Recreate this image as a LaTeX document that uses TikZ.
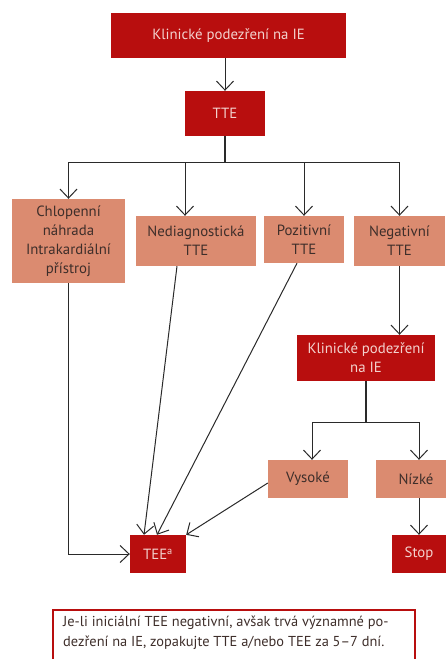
\documentclass[tikz,border=0pt]{standalone}
\usepackage{fontspec}
\setmainfont{PT Sans}
\usetikzlibrary{arrows.meta}
\definecolor{darkred}{HTML}{B80E0E}
\definecolor{salmon}{HTML}{DB8B70}
\definecolor{paletext}{HTML}{F3D2CE}
\definecolor{darktext}{HTML}{3E2E2A}
\definecolor{linegray}{HTML}{2A2A2A}
\begin{document}
\begin{tikzpicture}[
		x=1pt, y=-1pt,
		every node/.style={inner sep=0pt, align=center, font=\fontsize{14.8}{19}\selectfont},
		redbox/.style={fill=darkred, text=paletext},
		salmonbox/.style={fill=salmon, text=darktext},
		arr/.style={draw=linegray, line width=1pt, -{Straight Barb[length=9pt,width=17pt]}},
		conn/.style={draw=linegray, line width=1.2pt}
		]
		
		\useasboundingbox (0,0) rectangle (446,659);
		
		% upper part
		\node[redbox, minimum width=235pt, minimum height=45pt] (suspect) at (228.5,35.5) {Klinické podezření na IE};
		\node[redbox, minimum width=80pt, minimum height=45pt] (tte) at (225,113.5) {TTE};
		
		\node[salmonbox, minimum width=113pt, minimum height=84pt] (valve) at (68.5,241) {Chlopenní\\náhrada\\Intrakardiální\\přístroj};
		\node[salmonbox, minimum width=120pt, minimum height=50pt] (nondiag) at (196,241) {Nediagnostická\\TTE};
		\node[salmonbox, minimum width=80pt, minimum height=47pt] (positive) at (304,239.5) {Pozitivní\\TTE};
		\node[salmonbox, minimum width=91pt, minimum height=50pt] (negative) at (399.5,241) {Negativní\\TTE};
		
		% lower part
		\node[redbox, minimum width=138pt, minimum height=46pt] (suspect2) at (366,358) {Klinické podezření\\na IE};
		\node[salmonbox, minimum width=80pt, minimum height=38pt] (high) at (308,479) {Vysoké};
		\node[salmonbox, minimum width=80pt, minimum height=38pt] (low) at (416,479) {Nízké};
		\node[redbox, minimum width=56pt, minimum height=38pt] (tee) at (158,554) {TEE\textsuperscript{a}};
		\node[redbox, minimum width=54pt, minimum height=38pt] (stop) at (419,554) {Stop};
		
		% connectors
		\draw[arr] (tte.north |- suspect.south) -- (tte.north);
		\draw[conn] (tte.south) -- (225,162) coordinate (fork);
		\draw[arr] (fork) -| (valve.north);
		\draw[arr] (fork) -| ([xshift=-11pt]nondiag.north);
		\draw[arr] (fork) -| (positive.north);
		\draw[arr] (fork) -| (negative.north);
		
		\draw[arr] (valve.south) |- (tee.west);
		\draw[arr] ([xshift=-19pt]nondiag.south) -- ([xshift=-14pt]tee.north);
		\draw[arr] ([xshift=-7pt]positive.south) -- ([xshift=-1pt]tee.north);
		\draw[arr] ([yshift=-4pt]high.west) -- (tee.north east);
		
		\draw[arr] (negative.south) -- (negative.south |- suspect2.north);
		\draw[conn] (suspect2.south) -- (366,422) coordinate (fork2);
		\draw[arr] (fork2) -| ([xshift=4pt]high.north);
		\draw[arr] (fork2) -| ([xshift=3pt]low.north);
		\draw[arr] (stop.north |- low.south) -- (stop.north);
		
		% note
		\draw[darkred, line width=1.8pt] (53,610) rectangle (415,663);
		\node[anchor=north west, align=left, text=darktext, font=\fontsize{14.4}{20}\selectfont] (note) at (63,616)
		{Je-li iniciální TEE negativní, avšak trvá významné po-\\dezření na IE, zopakujte TTE a/nebo TEE za 5–7 dní.};
		
	\end{tikzpicture}
\end{document}
